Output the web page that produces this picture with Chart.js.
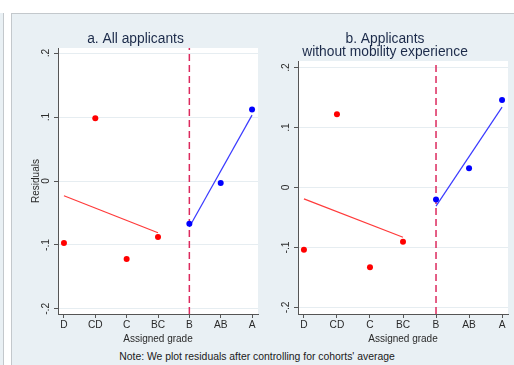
<!DOCTYPE html>
<html>
<head>
<meta charset="utf-8">
<script src="https://cdn.jsdelivr.net/npm/chart.js@4/dist/chart.umd.min.js"></script>
<style>
    html, body { margin: 0; padding: 0; background: #fff; }
    body { width: 514px; height: 365px; position: relative; overflow: hidden;
        font-family: "Liberation Sans", Arial, sans-serif; }
    .strip { position: absolute; left: 0; top: 13px; width: 3px; height: 360px;
        background: #e9f0f4; border-right: 1px solid #c3c8cc; }
    .panel { position: absolute; left: 11px; top: 13px; width: 600px; height: 400px;
        background: #e9f0f4; border: 1px solid #c3c8cc; }
    canvas { position: absolute; }
    #chartA { left: 12px; top: 14px; }
    #chartB { left: 262px; top: 14px; }
    .note { position: absolute; left: 0; width: 514px; top: 351px; text-align: center;
        font-size: 10.4px; color: #1a1a1a; }
</style>
</head>
<body>
<div class="strip"></div>
<div class="panel"></div>
<canvas id="chartA" width="250" height="334"></canvas>
<canvas id="chartB" width="250" height="334"></canvas>
<div class="note">Note: We plot residuals after controlling for cohorts' average</div>

<script>
// Grades on the x axis, D (lowest) to A (highest)
const grades = ['D', 'CD', 'C', 'BC', 'B', 'AB', 'A'];
const cutoffIndex = 4; // grade B

const yTicks = [-0.2, -0.1, 0, 0.1, 0.2];
const yTickLabels = ['-.2', '-.1', '0', '.1', '.2'];

// a. All applicants
const allResiduals = [-0.097, 0.098, -0.122, -0.0875, -0.067, -0.003, 0.112];
const allFitBelow = [-0.023, -0.081];   // at D and BC
const allFitAbove = [-0.072, 0.103];    // at B and A

// b. Applicants without mobility experience
const noMobResiduals = [-0.104, 0.122, -0.133, -0.0905, -0.020, 0.032, 0.146];
const noMobFitBelow = [-0.019, -0.083];
const noMobFitAbove = [-0.031, 0.134];

((document) => {
    'use strict';

    const font = '"Liberation Sans", Arial, sans-serif';
    const axisColor = '#555';
    const textColor = '#2a2a2a';

    // White plot region behind the marks
    const plotBackground = {
        id: 'plotBackground',
        beforeDraw: function (chart) {
            const a = chart.chartArea;
            const ctx = chart.ctx;
            ctx.save();
            ctx.fillStyle = '#fff';
            ctx.fillRect(a.left, a.top, a.right - a.left, a.bottom - a.top);
            ctx.restore();
        }
    };

    // Points for indexes [from..to] of a residual list
    function points(values, from, to) {
        let out = [];
        for (let i = from; i <= to; i++) {
            out.push({x: i, y: values[i]});
        }
        return out;
    }

    function buildChart(canvasId, opts) {
        const datasets = [
            {
                // cutoff line at B
                type: 'line',
                data: [{x: cutoffIndex, y: opts.yMin}, {x: cutoffIndex, y: opts.yMax}],
                borderColor: '#dc2a5e',
                borderWidth: 1.5,
                borderDash: [7, 4],
                pointRadius: 0,
                order: 5
            },
            {
                type: 'line',
                data: [{x: 0, y: opts.fitBelow[0]}, {x: 3, y: opts.fitBelow[1]}],
                borderColor: '#ff3a3a',
                borderWidth: 1.2,
                pointRadius: 0,
                order: 4
            },
            {
                type: 'line',
                data: [{x: 4, y: opts.fitAbove[0]}, {x: 6, y: opts.fitAbove[1]}],
                borderColor: '#3a3aff',
                borderWidth: 1.2,
                pointRadius: 0,
                order: 3
            },
            {
                type: 'scatter',
                data: points(opts.residuals, 0, 3),
                backgroundColor: '#ff0000',
                borderWidth: 0,
                pointRadius: 3,
                order: 2
            },
            {
                type: 'scatter',
                data: points(opts.residuals, 4, 6),
                backgroundColor: '#0000ff',
                borderWidth: 0,
                pointRadius: 3,
                order: 1
            }
        ];

        const config = {
            type: 'scatter',
            data: {datasets: datasets},
            options: {
                responsive: false,
                animation: false,
                devicePixelRatio: 1,
                layout: {
                    padding: {top: 0, left: 0, right: opts.padRight, bottom: 0}
                },
                plugins: {
                    legend: {display: false},
                    tooltip: {enabled: false},
                    title: {
                        display: true,
                        text: opts.title,
                        color: '#1c2b4a',
                        font: {family: font, size: 13.8, weight: 'normal', lineHeight: '13px'},
                        padding: {top: 18.5, bottom: 2.5}
                    }
                },
                scales: {
                    x: {
                        type: 'linear',
                        min: opts.xMin,
                        max: opts.xMax,
                        afterBuildTicks: function (scale) {
                            scale.ticks = grades.map((g, i) => ({value: i}));
                        },
                        afterFit: function (scale) {
                            scale.height = 34;
                        },
                        ticks: {
                            color: textColor,
                            font: {family: font, size: 10.2},
                            padding: 1.5,
                            maxRotation: 0,
                            autoSkip: false,
                            callback: function (value) {
                                return grades[value];
                            }
                        },
                        grid: {
                            drawOnChartArea: false,
                            tickLength: 4,
                            tickColor: axisColor
                        },
                        border: {color: axisColor, width: 1},
                        title: {
                            display: true,
                            text: 'Assigned grade',
                            color: textColor,
                            font: {family: font, size: 10},
                            padding: {top: 0, bottom: 2.3}
                        }
                    },
                    y: {
                        min: opts.yMin,
                        max: opts.yMax,
                        afterBuildTicks: function (scale) {
                            scale.ticks = yTicks.map(v => ({value: v}));
                        },
                        afterFit: function (scale) {
                            scale.width = opts.yWidth;
                        },
                        ticks: {
                            color: textColor,
                            font: {family: font, size: 10.2},
                            padding: 1.5,
                            minRotation: 90,
                            maxRotation: 90,
                            crossAlign: 'center',
                            callback: function (value, index) {
                                return yTickLabels[index];
                            }
                        },
                        grid: {
                            color: '#e6edf1',
                            tickLength: 4,
                            tickColor: axisColor
                        },
                        border: {color: axisColor, width: 1},
                        title: {
                            display: opts.yTitle,
                            text: 'Residuals',
                            color: textColor,
                            font: {family: font, size: 10},
                            padding: {top: 18, bottom: 0}
                        }
                    }
                }
            },
            plugins: [plotBackground]
        };

        return new Chart(document.getElementById(canvasId), config);
    }

    // Draw panel a
    buildChart('chartA', {
        title: 'a. All applicants',
        residuals: allResiduals,
        fitBelow: allFitBelow,
        fitAbove: allFitAbove,
        xMin: -0.19, xMax: 6.19,
        yMin: -0.208, yMax: 0.208,
        yWidth: 46,
        yTitle: true,
        padRight: 3
    });

    // Draw panel b
    buildChart('chartB', {
        title: ['b. Applicants', 'without mobility experience'],
        residuals: noMobResiduals,
        fitBelow: noMobFitBelow,
        fitAbove: noMobFitAbove,
        xMin: -0.18, xMax: 6.18,
        yMin: -0.211, yMax: 0.211,
        yWidth: 36,
        yTitle: false,
        padRight: 4
    });
})(document);
</script>
</body>
</html>
